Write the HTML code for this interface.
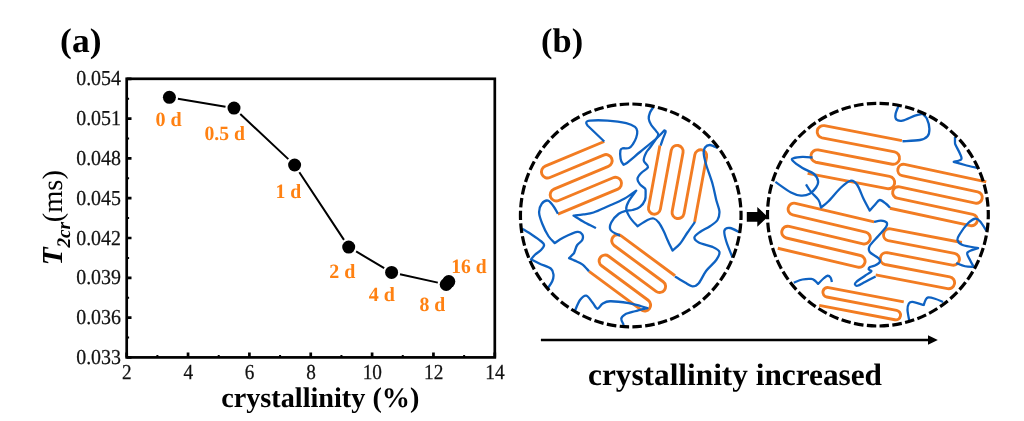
<!DOCTYPE html>
<html><head><meta charset="utf-8"><title>figure</title>
<style>html,body{margin:0;padding:0;background:#fff}body{width:1024px;height:421px;overflow:hidden;font-family:"Liberation Serif",serif}svg{display:block;will-change:transform;opacity:.999}</style></head>
<body>
<svg width="1024" height="421" viewBox="0 0 1024 421" text-rendering="geometricPrecision">
<rect width="1024" height="421" fill="#fff"/>
<g stroke="#000" fill="none">
<rect x="126.7" y="78.8" width="368.1" height="278.6" stroke-width="2.7"/>
<path d="M126.7 78.8h4.8 M126.7 118.6h4.8 M126.7 158.4h4.8 M126.7 198.2h4.8 M126.7 238h4.8 M126.7 277.8h4.8 M126.7 317.6h4.8 M126.7 357.4h4.8 M126.7 357.4v-4.8 M188.05 357.4v-4.8 M249.4 357.4v-4.8 M310.75 357.4v-4.8 M372.1 357.4v-4.8 M433.45 357.4v-4.8 M494.8 357.4v-4.8" stroke-width="2.7"/>
<path d="M126.7 98.7h2.4 M126.7 138.5h2.4 M126.7 178.3h2.4 M126.7 218.1h2.4 M126.7 257.9h2.4 M126.7 297.7h2.4 M126.7 337.5h2.4 M157.38 357.4v-2.4 M218.73 357.4v-2.4 M280.07 357.4v-2.4 M341.43 357.4v-2.4 M402.78 357.4v-2.4 M464.12 357.4v-2.4" stroke-width="2"/>
</g>
<path d="M177.88 98.72L225.52 106.68 M240.27 113.99L288.33 159.11 M299.33 172.18L343.97 239.92 M356.11 251.47L384.19 268.03 M400 274.26L437.8 282.64" stroke="#000" stroke-width="2" fill="none"/>
<circle cx="169.4" cy="97.3" r="6.5" fill="#000"/>
<circle cx="234" cy="108.1" r="6.5" fill="#000"/>
<circle cx="294.6" cy="165" r="6.5" fill="#000"/>
<circle cx="348.7" cy="247.1" r="6.5" fill="#000"/>
<circle cx="391.6" cy="272.4" r="6.5" fill="#000"/>
<circle cx="446.2" cy="284.5" r="6.5" fill="#000"/>
<circle cx="448.8" cy="281.6" r="6.5" fill="#000"/>
<g font-family="'Liberation Serif', serif" font-size="21.3" fill="#111" stroke="#111" stroke-width="0.25">
<text x="76.2" y="85.4" textLength="44.8" lengthAdjust="spacingAndGlyphs">0.054</text>
<text x="76.2" y="125.2" textLength="44.8" lengthAdjust="spacingAndGlyphs">0.051</text>
<text x="76.2" y="165" textLength="44.8" lengthAdjust="spacingAndGlyphs">0.048</text>
<text x="76.2" y="204.8" textLength="44.8" lengthAdjust="spacingAndGlyphs">0.045</text>
<text x="76.2" y="244.6" textLength="44.8" lengthAdjust="spacingAndGlyphs">0.042</text>
<text x="76.2" y="284.4" textLength="44.8" lengthAdjust="spacingAndGlyphs">0.039</text>
<text x="76.2" y="324.2" textLength="44.8" lengthAdjust="spacingAndGlyphs">0.036</text>
<text x="76.2" y="364" textLength="44.8" lengthAdjust="spacingAndGlyphs">0.033</text>
<text x="122.1" y="378.5" textLength="9.6" lengthAdjust="spacingAndGlyphs">2</text>
<text x="183.45" y="378.5" textLength="9.6" lengthAdjust="spacingAndGlyphs">4</text>
<text x="244.8" y="378.5" textLength="9.6" lengthAdjust="spacingAndGlyphs">6</text>
<text x="306.15" y="378.5" textLength="9.6" lengthAdjust="spacingAndGlyphs">8</text>
<text x="362.65" y="378.5" textLength="19.3" lengthAdjust="spacingAndGlyphs">10</text>
<text x="424" y="378.5" textLength="19.3" lengthAdjust="spacingAndGlyphs">12</text>
<text x="485.35" y="378.5" textLength="19.3" lengthAdjust="spacingAndGlyphs">14</text>
</g>
<g font-family="'Liberation Serif', serif" font-size="20.3" font-weight="bold" fill="#FF8112">
<text x="155.4" y="126.4" textLength="26.3" lengthAdjust="spacingAndGlyphs">0 d</text>
<text x="204.4" y="140.1" textLength="40.5" lengthAdjust="spacingAndGlyphs">0.5 d</text>
<text x="275.4" y="197.8" textLength="25.8" lengthAdjust="spacingAndGlyphs">1 d</text>
<text x="329.3" y="277.8" textLength="26.1" lengthAdjust="spacingAndGlyphs">2 d</text>
<text x="368.7" y="301.1" textLength="26.1" lengthAdjust="spacingAndGlyphs">4 d</text>
<text x="419.4" y="311.2" textLength="25.8" lengthAdjust="spacingAndGlyphs">8 d</text>
<text x="451.3" y="272.7" textLength="35.3" lengthAdjust="spacingAndGlyphs">16 d</text>
</g>
<g font-family="'Liberation Serif', serif" font-weight="bold" fill="#000">
<text x="60.1" y="52.2" font-size="34.3" textLength="41.4" lengthAdjust="spacingAndGlyphs">(a)</text>
<text x="541.1" y="52.3" font-size="34.3" textLength="42" lengthAdjust="spacingAndGlyphs">(b)</text>
<text x="221.2" y="406.8" font-size="28.3" textLength="198.2" lengthAdjust="spacingAndGlyphs">crystallinity (%)</text>
<text x="588" y="384.8" font-size="31.1" textLength="294" lengthAdjust="spacingAndGlyphs">crystallinity increased</text>
</g>
<g transform="translate(61.6,265.2) rotate(-90)" font-family="'Liberation Serif', serif" fill="#000">
<text x="0" y="0" font-size="29" font-weight="bold" font-style="italic">T</text>
<text x="17.6" y="8.6" font-size="19.3" font-weight="bold" font-style="italic">2cr</text>
<text x="42.9" y="0" font-size="28.5">(ms)</text>
</g>
<g fill="none" stroke-linecap="butt" stroke-linejoin="round">
<g stroke="#F27C22" stroke-width="2.9">
<path d="M604.25 141.5 L545.21 166.2 A6.14 6.14 0 0 0 549.95 177.53 L603.64 155.07 A6.14 6.14 0 0 1 608.38 166.4 L553.95 189.16 A6.14 6.14 0 0 0 558.69 200.49 L613.12 177.72 A6.14 6.14 0 0 1 617.85 189.05 L557.89 214.14"/>
<path d="M659.9 145.6 L648.54 207.16 A6 6 0 0 0 660.34 209.34 L671.25 150.24 A6 6 0 0 1 683.05 152.42 L672.14 211.52 A6 6 0 0 0 683.94 213.7 L694.83 154.69 A6 6 0 0 1 706.63 156.87 L694.61 221.97"/>
<path d="M675.02 275.72 L621.21 235.89 A5.95 5.95 0 0 0 614.13 245.46 L663.16 281.74 A5.95 5.95 0 0 1 656.08 291.31 L608.66 256.21 A5.95 5.95 0 0 0 601.58 265.78 L648.2 300.28 A5.95 5.95 0 0 1 641.12 309.85 L589.07 271.33"/>
<path d="M901.9 140.6 L824.42 125.68 A6.25 6.25 0 0 0 822.06 137.95 L894.63 151.93 A6.25 6.25 0 0 1 892.26 164.2 L818.17 149.94 A6.25 6.25 0 0 0 815.81 162.21 L889.6 176.42 A6.25 6.25 0 0 1 887.24 188.7 L807.6 173.36"/>
<path d="M986.25 181.9 L904.61 164.4 A5.75 5.75 0 0 0 902.19 175.64 L977.73 191.83 A5.75 5.75 0 0 1 975.32 203.08 L899.59 186.84 A5.75 5.75 0 0 0 897.18 198.09 L972.86 214.31 A5.75 5.75 0 0 1 970.45 225.56 L889.88 208.28"/>
<path d="M961.9 242.5 L890.49 228.88 A6 6 0 0 0 888.24 240.66 L954.54 253.31 A6 6 0 0 1 952.29 265.1 L887.27 252.7 A6 6 0 0 0 885.02 264.48 L949.75 276.83 A6 6 0 0 1 947.5 288.62 L875.7 274.92"/>
<path d="M874.1 221.9 L795.47 203.31 A5.97 5.97 0 0 0 792.72 214.94 L865.71 232.2 A5.97 5.97 0 0 1 862.96 243.82 L789.09 226.36 A5.97 5.97 0 0 0 786.34 237.99 L860.5 255.52 A5.97 5.97 0 0 1 857.75 267.15 L777.76 248.24"/>
<path d="M903.75 301.9 L828.56 287.56 A4.8 4.8 0 0 0 826.76 296.99 L896.65 310.32 A4.8 4.8 0 0 1 894.85 319.75 L819.21 305.32"/>
</g>
<g stroke="#0E62C2" stroke-width="2.3">
<path d="M604.25 141.5 C601.46 138.83 590.29 128.17 587.5 125.5 C587.29 125 585.83 123.32 586.25 122.5 C586.67 121.68 586.46 120.92 590 120.6 C593.54 120.28 601.46 120.18 607.5 120.6 C613.54 121.02 621.67 122.05 626.25 123.1 C630.83 124.15 633.17 125.54 635 126.9 C636.83 128.26 637.04 129.48 637.25 131.25 C637.46 133.02 636.96 135.38 636.25 137.5 C635.54 139.62 634.21 142.25 633 144 C631.79 145.75 630.75 147.27 629 148 C627.25 148.73 623.93 147.98 622.5 148.4 C621.07 148.82 620.72 148.78 620.4 150.5 C620.08 152.22 620.23 156.6 620.6 158.75 C620.97 160.9 621.77 162.56 622.6 163.4 C623.43 164.24 622.7 165.7 625.6 163.8 C628.5 161.9 634.68 156.38 640 152 C645.32 147.62 653.43 141.1 657.5 137.5 C661.57 133.9 663.25 131.58 664.4 130.4 C664.6 130.65 665.92 130.3 665.6 131.9 C665.28 133.5 663.33 137.72 662.5 140 C661.67 142.28 660.92 144.67 660.6 145.6"/>
<path d="M653.5 106.9 C652.92 107.83 650.79 110.53 650 112.5 C649.21 114.47 648.54 116.67 648.75 118.75 C648.96 120.83 650 122.92 651.25 125 C652.5 127.08 655.12 129.48 656.25 131.25 C657.38 133.02 659.04 132.89 658 135.6 C656.96 138.31 651.96 144.68 650 147.5 C648.04 150.32 647.29 150.32 646.25 152.5 C645.21 154.68 643.46 158.18 643.75 160.6 C644.04 163.02 648.42 164.93 648 167 C647.58 169.07 643 171.04 641.25 173 C639.5 174.96 637.71 176.85 637.5 178.75 C637.29 180.65 638.75 182.78 640 184.4 C641.25 186.03 644.07 187.23 645 188.5 C645.93 189.77 645.6 190.08 645.6 192 C645.6 193.92 645.93 197.52 645 200 C644.07 202.48 642.08 205.23 640 206.9 C637.92 208.57 634.68 209.38 632.5 210 C630.32 210.62 629.19 209.97 626.9 210.6 C624.61 211.22 621.36 211.77 618.75 213.75 C616.14 215.73 612.61 219.79 611.25 222.5 C609.89 225.21 609.35 227.92 610.6 230 C611.85 232.08 617.18 234.17 618.75 235 C620.32 235.83 619.79 235 620 235"/>
<path d="M596 228 C594.12 227.08 588.5 224.57 584.75 222.5 C581 220.43 575.38 216.75 573.5 215.6 C575.17 215.4 580.17 214.92 583.5 214.4 C586.83 213.88 589.42 213.86 593.5 212.5 C597.58 211.14 602.88 208.54 608 206.25 C613.12 203.96 619.54 201.36 624.25 198.75 C628.96 196.14 634.25 191.96 636.25 190.6 C635 192.38 630.42 198.22 628.75 201.25 C627.08 204.28 626.04 206.04 626.25 208.75 C626.46 211.46 628.12 214.58 630 217.5 C631.88 220.42 636.25 224.79 637.5 226.25 C639.17 225.21 644.79 221.29 647.5 220 C650.21 218.71 651.88 218.08 653.75 218.5 C655.62 218.92 657.08 220.38 658.75 222.5 C660.42 224.62 662.29 228.33 663.75 231.25 C665.21 234.17 666.04 236.78 667.5 240 C668.96 243.22 671.67 248.83 672.5 250.6 C673.75 249.46 677.5 246.77 680 243.75 C682.5 240.73 685 236.14 687.5 232.5 C690 228.86 693.75 223.67 695 221.9"/>
<path d="M717.5 148 C716.25 147.5 712.08 145.08 710 145 C707.92 144.92 706.04 146.04 705 147.5 C703.96 148.96 703.54 150.83 703.75 153.75 C703.96 156.67 704.79 160 706.25 165 C707.71 170 710.83 177.92 712.5 183.75 C714.17 189.58 715.1 195.42 716.25 200 C717.4 204.58 719.19 207.92 719.4 211.25 C719.61 214.58 719.07 217.5 717.5 220 C715.93 222.5 712.92 224.25 710 226.25 C707.08 228.25 702.6 230.12 700 232 C697.4 233.88 694.61 235.75 694.4 237.5 C694.19 239.25 695.73 240.93 698.75 242.5 C701.77 244.07 709.06 245.33 712.5 246.9 C715.94 248.47 718.77 249.72 719.4 251.9 C720.02 254.08 718.44 256.86 716.25 260 C714.06 263.14 709.17 266.88 706.25 270.75 C703.33 274.62 701.04 280.64 698.75 283.25 C696.46 285.86 694.79 286.51 692.5 286.4 C690.21 286.29 687.92 284.27 685 282.6 C682.08 280.93 676.67 277.43 675 276.4"/>
<path d="M740 232.5 C738.33 231.75 732.6 228.32 730 228 C727.4 227.68 725.02 228.39 724.4 230.6 C723.77 232.81 724.9 236.77 726.25 241.25 C727.6 245.73 731.46 254.79 732.5 257.5"/>
<path d="M557.9 213.75 C557.17 212.5 555.15 208.44 553.5 206.25 C551.85 204.06 549.96 201.02 548 200.6 C546.04 200.18 543.23 201.77 541.75 203.75 C540.27 205.73 539.02 209.17 539.1 212.5 C539.18 215.83 540.68 219.79 542.25 223.75 C543.82 227.71 546.42 233.03 548.5 236.25 C550.58 239.47 553.71 241.96 554.75 243.1 C556.21 242.17 559.75 239.37 563.5 237.5 C567.25 235.63 574.12 232.42 577.25 231.9 C580.38 231.38 581.42 233.05 582.25 234.4 C583.08 235.75 583.08 238.23 582.25 240 C581.42 241.77 578.5 243.12 577.25 245 C576 246.88 575.38 249.79 574.75 251.25 C574.12 252.71 574.44 252.61 573.5 253.75 C572.56 254.89 569.83 257.38 569.1 258.1 C570.04 258.52 572.56 259.55 574.75 260.6 C576.94 261.65 579.86 262.62 582.25 264.4 C584.64 266.17 587.96 270.11 589.1 271.25"/>
<path d="M522.25 228.75 C523.92 229.79 529.12 232.92 532.25 235 C535.38 237.08 539.02 239.58 541 241.25 C542.98 242.92 544.1 243.54 544.1 245 C544.1 246.46 542.56 248.33 541 250 C539.44 251.67 536.42 253.43 534.75 255 C533.08 256.57 531.62 258.67 531 259.4 C532.46 260.12 536.42 262.19 539.75 263.75 C543.08 265.31 548.71 266.88 551 268.75 C553.29 270.62 553.29 272.92 553.5 275 C553.71 277.08 553.18 279.07 552.25 281.25 C551.32 283.43 548.62 286.96 547.9 288.1"/>
<path d="M575 310.6 C575.83 308.83 578.12 302.5 580 300 C581.88 297.5 584.17 295.18 586.25 295.6 C588.33 296.02 590.62 300.31 592.5 302.5 C594.38 304.69 595.83 308.54 597.5 308.75 C599.17 308.96 600.42 305 602.5 303.75 C604.58 302.5 605.62 301.36 610 301.25 C614.38 301.14 623.54 302.27 628.75 303.1 C633.96 303.93 638.12 305.42 641.25 306.25 C644.38 307.08 646.46 307.79 647.5 308.1 C645.42 308.62 638.75 310.2 635 311.25 C631.25 312.3 627.29 313.15 625 314.4 C622.71 315.65 621.46 316.98 621.25 318.75 C621.04 320.52 623.33 323.96 623.75 325"/>
<path d="M898.75 105.6 C898.23 106.96 896.02 111.45 895.6 113.75 C895.18 116.05 895.1 118.26 896.25 119.4 C897.4 120.54 899.38 121.23 902.5 120.6 C905.62 119.97 911.67 116.74 915 115.6 C918.33 114.46 921.25 114.06 922.5 113.75 C923.23 114.58 925.75 116.25 926.9 118.75 C928.05 121.25 929.3 125.83 929.4 128.75 C929.5 131.67 929.07 134.38 927.5 136.25 C925.93 138.12 924.17 139.17 920 140 C915.83 140.83 905.42 141.04 902.5 141.25"/>
<path d="M955 136.9 C955 137.83 954.9 141.15 955 142.5 C955.1 143.85 954.77 143.12 955.6 145 C956.43 146.88 959.06 151.35 960 153.75 C960.94 156.15 962.29 158.04 961.25 159.4 C960.21 160.76 955 161.48 953.75 161.9 C955.62 162.42 960.94 163.97 965 165 C969.06 166.03 975.92 167.58 978.1 168.1"/>
<path d="M812.5 157.5 C810.83 157.4 805.62 156.8 802.5 156.9 C799.38 157 795.42 157.48 793.75 158.1 C792.08 158.72 791.04 158.93 792.5 160.6 C793.96 162.27 798.96 165.91 802.5 168.1 C806.04 170.29 811.15 171.56 813.75 173.75 C816.35 175.94 817.73 178.96 818.1 181.25 C818.48 183.54 817.39 185.42 816 187.5 C814.61 189.58 812.25 192.4 809.75 193.75 C807.25 195.1 804.12 195.81 801 195.6 C797.88 195.39 795.27 194.78 791 192.5 C786.73 190.22 778 183.67 775.4 181.9"/>
<path d="M806 184.4 C806.83 185.65 808.92 189.3 811 191.9 C813.08 194.5 816.83 197.4 818.5 200 C820.17 202.6 820.58 206.25 821 207.5 C822.25 206.46 825.17 204.58 828.5 201.25 C831.83 197.92 837.25 190.94 841 187.5 C844.75 184.06 848.29 181.02 851 180.6 C853.71 180.18 855.17 181.97 857.25 185 C859.33 188.03 861.42 194.48 863.5 198.75 C865.58 203.02 868.71 208.62 869.75 210.6 C870.58 209.67 873.08 206.77 874.75 205 C876.42 203.23 877.88 200.21 879.75 200 C881.62 199.79 884.29 202.45 886 203.75 C887.71 205.05 889.33 207.12 890 207.8"/>
<path d="M986.25 230.6 C985.21 229.04 981.88 223.22 980 221.25 C978.12 219.28 977.08 218.33 975 218.75 C972.92 219.17 970 221.25 967.5 223.75 C965 226.25 961.67 231.04 960 233.75 C958.33 236.46 957.08 238.12 957.5 240 C957.92 241.88 959.07 243.65 962.5 245 C965.93 246.35 975.5 247.58 978.1 248.1 C976.33 248.83 968.85 250.52 967.5 252.5 C966.15 254.48 968.96 257.6 970 260 C971.04 262.4 973.12 265.75 973.75 266.9 C972.29 266.79 967.92 266.88 965 266.25 C962.08 265.62 957.71 263.62 956.25 263.1"/>
<path d="M874.1 221.9 C875.25 221.68 878.92 220.5 881 220.6 C883.08 220.7 885.77 221.43 886.6 222.5 C887.43 223.57 887.35 224.79 886 227 C884.65 229.21 881.21 232.62 878.5 235.75 C875.79 238.88 871.21 243.04 869.75 245.75 C868.29 248.46 868.29 249.92 869.75 252 C871.21 254.08 876.83 256.58 878.5 258.25 C880.17 259.92 880.33 260.79 879.75 262 C879.17 263.21 876.62 264.67 875 265.5 C873.38 266.33 871.04 266.33 870 267 C868.96 267.67 868.54 268.77 868.75 269.5 C868.96 270.23 871.88 270.36 871.25 271.4 C870.62 272.44 867.5 273.98 865 275.75 C862.5 277.52 857.92 280.54 856.25 282 C854.58 283.46 854.79 283.88 855 284.5 C855.21 285.12 855.83 286.17 857.5 285.75 C859.17 285.33 861.98 283.56 865 282 C868.02 280.44 873.83 277.33 875.6 276.4"/>
<path d="M793.75 282.6 C795.21 282.08 799.58 280.12 802.5 279.5 C805.42 278.88 809.17 278.69 811.25 278.9 C813.33 279.11 813.86 279.92 815 280.75 C816.14 281.58 817.58 283.38 818.1 283.9 C819.04 282.96 822.18 279.61 823.75 278.25 C825.32 276.89 826.36 275.86 827.5 275.75 C828.64 275.64 829.87 276.56 830.6 277.6 C831.33 278.64 831.68 281.27 831.9 282"/>
<path d="M909.4 321.25 C909.08 319.38 907.61 312.92 907.5 310 C907.39 307.08 907.92 305.1 908.75 303.75 C909.58 302.4 910 301.69 912.5 301.9 C915 302.11 921.88 304.48 923.75 305 C924.06 304.17 924.88 301.25 925.6 300 C926.33 298.75 926.53 297.71 928.1 297.5 C929.67 297.29 932.5 298.02 935 298.75 C937.5 299.48 941.75 301.38 943.1 301.9"/>
</g>
<ellipse cx="630.75" cy="215.4" rx="110.3" ry="111.4" stroke="#000" stroke-width="3.2" pathLength="54" stroke-dasharray="0.738 0.262" stroke-dashoffset="0.369"/>
<ellipse cx="877.9" cy="214.65" rx="110.4" ry="111.35" stroke="#000" stroke-width="3.2" pathLength="54" stroke-dasharray="0.738 0.262" stroke-dashoffset="0.369"/>
</g>
<path d="M746.8 211.9H757.3V207.1l10.6 9.8L757.3 226.7v-4.9H746.8z" fill="#000"/>
<path d="M540.9 339.95H929" stroke="#000" stroke-width="2.6" fill="none"/>
<path d="M937.8 339.95L928 335.2V344.7z" fill="#000"/>
</svg>
</body></html>
